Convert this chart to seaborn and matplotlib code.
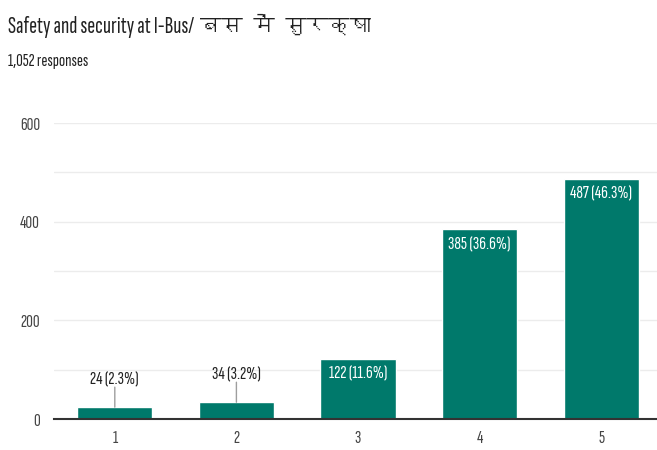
import matplotlib
matplotlib.use("Agg")
import matplotlib.pyplot as plt
from matplotlib import font_manager as fm
from matplotlib.font_manager import FontProperties
from matplotlib.ft2font import FT2Font
from matplotlib.ticker import MultipleLocator
import seaborn as sns
import pandas as pd

# Survey answers: rating scale and number of responses per rating
ratings = ["1", "2", "3", "4", "5"]
counts = [24, 34, 122, 385, 487]
total_responses = 1052
title = "Safety and security at I-Bus/ बस में सुरक्षा"
subtitle = "1,052 responses"

BAR_COLOR = "#00796b"
TEXT_DARK = "#212121"
TEXT_GREY = "#444444"

sns.set_theme(style="white")


def covers(path, chars):
    try:
        ft = FT2Font(path)
        return all(ft.get_char_index(ord(c)) != 0 for c in chars)
    except Exception:
        return False


def digit_ratio(path):
    """Advance width of '0' divided by its ink height."""
    ft = FT2Font(path)
    ft.set_size(100, 72)
    g = ft.load_char(ord("0"))
    return (g.linearHoriAdvance / 65536) / (g.height / 64)


# Choose a compact sans face for the Latin text (narrow digits)
best, best_err = None, None
for f in fm.fontManager.ttflist:
    low = f.name.lower()
    if f.style != "normal" or f.weight != 400:
        continue
    if not any(k in low for k in ("sans", "roboto", "lato", "inter")):
        continue
    if any(k in low for k in ("mono", "cjk", "math", "symbol")):
        continue
    if not covers(f.fname, "Sa0%(),"):
        continue
    try:
        err = abs(digit_ratio(f.fname) - 0.55)
    except Exception:
        continue
    if best_err is None or err < best_err:
        best, best_err = f, err

latin_fp = FontProperties(fname=best.fname) if best else FontProperties(family="Roboto")

deva_family = None
for f in fm.fontManager.ttflist:
    if covers(f.fname, "बसमसुरक्ष"):
        deva_family = f.name
        break
deva_fp = FontProperties(family=[deva_family, "DejaVu Sans"] if deva_family else ["DejaVu Sans"])

df = pd.DataFrame({"rating": ratings, "count": counts})

fig = plt.figure(figsize=(6.57, 4.5), dpi=100)
renderer = fig.canvas.get_renderer()
ax = fig.add_axes([54 / 657, 31 / 450, 608 / 657, 296 / 450])


def fit_size(text, fp, target_px):
    """Font size (pt) at which ``text`` spans ``target_px`` pixels."""
    probe = fig.text(0, 0, text, fontproperties=fp, fontsize=10)
    w = probe.get_window_extent(renderer).width
    probe.remove()
    return 10 * target_px / w


sns.barplot(data=df, x="rating", y="count", color=BAR_COLOR, saturation=1,
            width=0.62, ax=ax)

ax.set_ylim(0, 600)
ax.set_xlim(-0.5, 4.5)
ax.yaxis.set_major_locator(MultipleLocator(200))
ax.yaxis.set_minor_locator(MultipleLocator(100))
ax.grid(axis="y", which="both", color="#ececec", linewidth=1.0)
ax.grid(axis="x", visible=False)
ax.set_axisbelow(True)
for side in ("top", "right", "left"):
    ax.spines[side].set_visible(False)
ax.spines["bottom"].set_color("#333333")
ax.spines["bottom"].set_linewidth(1.5)
ax.spines["bottom"].set_zorder(5)
ax.set_xlabel("")
ax.set_ylabel("")
ax.tick_params(axis="both", which="both", length=0)
ax.tick_params(axis="y", pad=10, labelcolor=TEXT_GREY)
ax.tick_params(axis="x", pad=8, labelcolor=TEXT_GREY)

tick_size = fit_size("600", latin_fp, 20)
for lbl in ax.get_xticklabels() + ax.get_yticklabels():
    lbl.set_fontproperties(latin_fp)
    lbl.set_fontsize(tick_size)

# Value labels: inside tall bars, above short bars with a leader line
label_size = fit_size("487 (46.3%)", latin_fp, 62)
for i, v in enumerate(counts):
    label = f"{v} ({v / total_responses * 100:.1f}%)"
    if v > 100:
        ax.annotate(label, xy=(i, v), xytext=(0, -7), textcoords="offset pixels",
                    ha="center", va="top", fontproperties=latin_fp,
                    fontsize=label_size, color="white")
    else:
        ax.annotate("", xy=(i, v), xytext=(0, 20), textcoords="offset pixels",
                    arrowprops=dict(arrowstyle="-", color="#9e9e9e", lw=1,
                                    shrinkA=0, shrinkB=0))
        ax.annotate(label, xy=(i, v), xytext=(0, 20), textcoords="offset pixels",
                    ha="center", va="bottom", fontproperties=latin_fp,
                    fontsize=label_size, color=TEXT_DARK)

# Title: Latin part and Devanagari part set in their own faces on one baseline
latin_part, deva_part = title.split("/ ")
latin_part += "/"
x0, base_y = 8, 33
title_size = fit_size(latin_part, latin_fp, 185)
t1 = fig.text(x0 / 657, 1 - base_y / 450, latin_part, fontproperties=latin_fp,
              fontsize=title_size, color=TEXT_DARK, va="baseline", ha="left")
x1 = t1.get_window_extent(renderer).x1
fig.text((x1 + 6) / 657, 1 - base_y / 450, deva_part, fontproperties=deva_fp,
         fontsize=title_size * 0.9, color=TEXT_DARK, va="baseline", ha="left")

fig.text(x0 / 657, 1 - 66 / 450, subtitle, fontproperties=latin_fp,
         fontsize=fit_size(subtitle, latin_fp, 80), color=TEXT_DARK,
         va="baseline", ha="left")

fig.savefig("out.png", dpi=100, facecolor="white")
